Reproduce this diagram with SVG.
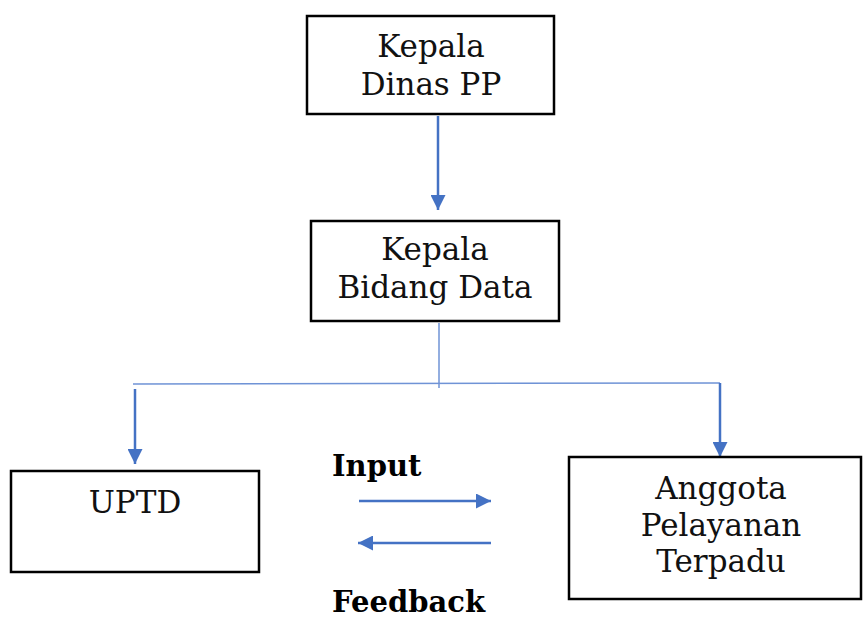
<svg xmlns="http://www.w3.org/2000/svg" width="863" height="618" viewBox="0 0 863 618">
<style>
.box{fill:#fff;stroke:#000;stroke-width:2.5}
.t{font-family:"DejaVu Serif","Liberation Serif",serif;font-size:31px;fill:#111;text-anchor:middle}
.b{font-family:"DejaVu Serif","Liberation Serif",serif;font-size:29px;font-weight:bold;fill:#000}
.c{fill:none;stroke:#4472c4;stroke-width:2.5}
.thin{fill:none;stroke:#6f93d6;stroke-width:1.5}
</style>
<defs>
<marker id="ah" markerWidth="6" markerHeight="6" refX="6" refY="3" orient="auto" markerUnits="strokeWidth">
<path d="M0,0 L6,3 L0,6 Z" fill="#4472c4"/>
</marker>
</defs>
<rect width="863" height="618" fill="#fff"/>
<g id="connectors">
<line class="c" x1="438" y1="116" x2="438" y2="210" marker-end="url(#ah)"/>
<line class="thin" x1="439" y1="323" x2="439" y2="388"/>
<line class="thin" x1="133" y1="384" x2="720" y2="383"/>
<line class="c" x1="135" y1="389" x2="135" y2="464" marker-end="url(#ah)"/>
<line class="c" x1="720" y1="383" x2="720" y2="457" marker-end="url(#ah)"/>
<line class="c" x1="359" y1="501" x2="491" y2="501" marker-end="url(#ah)"/>
<line class="c" x1="491" y1="543" x2="358" y2="543" marker-end="url(#ah)"/>
</g>
<g id="kepala-dinas">
<rect class="box" x="307" y="16" width="247" height="98"/>
<text class="t" x="431" y="57">Kepala</text>
<text class="t" x="431" y="95">Dinas PP</text>
</g>
<g id="kepala-bidang">
<rect class="box" x="311" y="221" width="248" height="100"/>
<text class="t" x="435" y="260">Kepala</text>
<text class="t" x="435" y="298">Bidang Data</text>
</g>
<g id="uptd">
<rect class="box" x="11" y="471" width="248" height="101"/>
<text class="t" x="135" y="513">UPTD</text>
</g>
<g id="anggota">
<rect class="box" x="569" y="457" width="292" height="142"/>
<text class="t" x="721" y="499">Anggota</text>
<text class="t" x="721" y="536">Pelayanan</text>
<text class="t" x="721" y="572">Terpadu</text>
</g>
<g id="labels">
<text class="b" x="332" y="476">Input</text>
<text class="b" x="332" y="612">Feedback</text>
</g>
</svg>
